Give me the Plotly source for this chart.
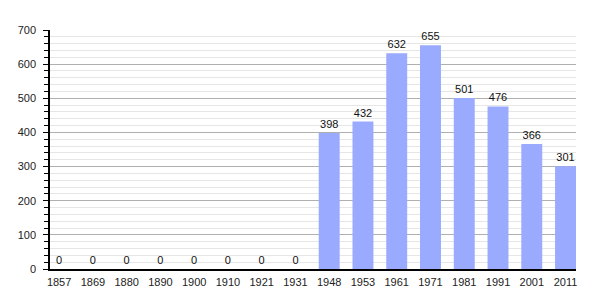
import plotly.graph_objects as go

years = ["1857", "1869", "1880", "1890", "1900", "1910", "1921", "1931",
         "1948", "1953", "1961", "1971", "1981", "1991", "2001", "2011"]
population = [0, 0, 0, 0, 0, 0, 0, 0, 398, 432, 632, 655, 501, 476, 366, 301]
y_ticks = [0, 100, 200, 300, 400, 500, 600, 700]

fig = go.Figure()
fig.add_trace(go.Bar(
    x=years, y=population,
    marker=dict(color="#99aaff", line=dict(width=0)),
    width=0.62,
    text=[str(v) for v in population],
    textposition="outside",
    textfont=dict(size=11, color="#111111", family="Liberation Sans, Arial, sans-serif"),
    cliponaxis=False,
))

fig.update_layout(
    width=605, height=300,
    margin=dict(l=50, r=29, t=30, b=31),
    paper_bgcolor="white", plot_bgcolor="white",
    showlegend=False,
    font=dict(family="Liberation Sans, Arial, sans-serif", size=11, color="#222222"),
    bargap=0.38,
    xaxis=dict(
        type="category",
        range=[-0.27, 15.31],
        showgrid=False,
        showline=True, linecolor="black", linewidth=1.5,
        ticks="", tickfont=dict(size=11, color="#222222"),
        ticklabelstandoff=2,
        fixedrange=True,
    ),
    yaxis=dict(
        range=[0, 700],
        tickvals=y_ticks,
        showgrid=True, gridcolor="#b0b0b0", gridwidth=1,
        showline=True, linecolor="black", linewidth=1.5,
        ticks="outside", ticklen=5, tickcolor="black", tickwidth=1,
        tickfont=dict(size=11, color="#222222"),
        ticklabelstandoff=5,
        minor=dict(dtick=20, showgrid=True, gridcolor="#e6e6e6", gridwidth=1,
                   ticks="outside", ticklen=4, tickcolor="black"),
        zeroline=False,
        fixedrange=True,
    ),
)

fig.write_html("out.html")
